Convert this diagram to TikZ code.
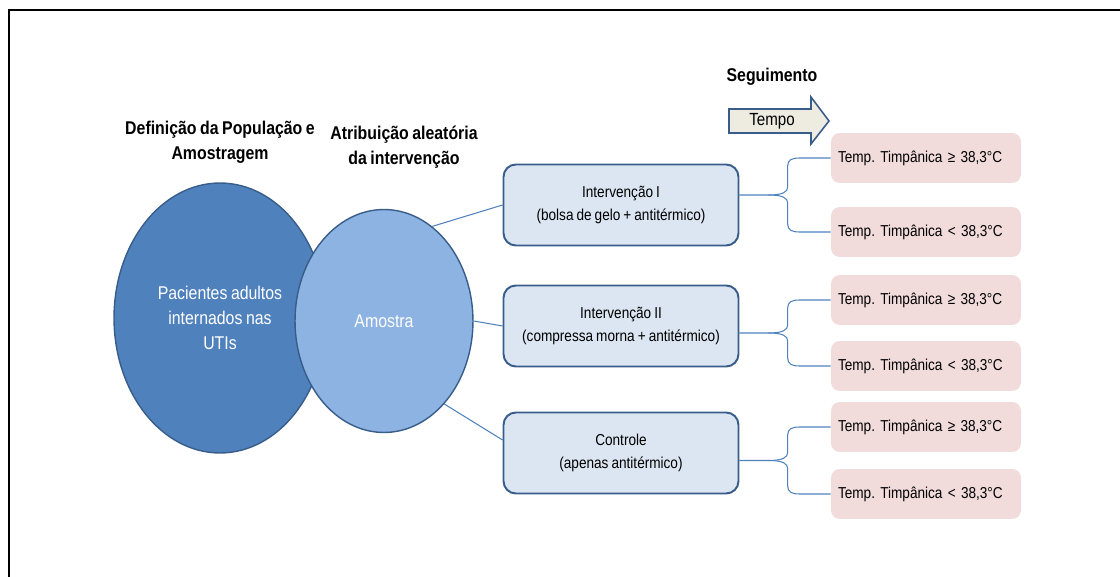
\documentclass[tikz,border=0pt]{standalone}
\usepackage{fontspec}
\setmainfont{Liberation Sans}[FakeStretch=0.86, WordSpace=0.8]
\usetikzlibrary{shapes.geometric,calc}
\frenchspacing

\definecolor{azulEsc}{HTML}{4F81BD}
\definecolor{azulCla}{HTML}{8DB3E2}
\definecolor{azulBorda}{HTML}{385D8A}
\definecolor{azulCaixa}{HTML}{DCE6F2}
\definecolor{rosa}{HTML}{F2DCDB}
\definecolor{bege}{HTML}{EEECE1}

\tikzstyle{every node}=[font=\fontsize{9pt}{13pt}\selectfont]
\tikzstyle{titulo}=[font=\fontsize{10.5pt}{14pt}\selectfont\bfseries, align=center]
\tikzstyle{circulo}=[ellipse, draw=azulBorda, line width=0.8pt, text=white, align=center, font=\fontsize{10.5pt}{14.2pt}\selectfont]
\tikzstyle{caixa}=[draw=azulBorda, line width=1.1pt, fill=azulCaixa, rounded corners=7pt, minimum width=4.7cm, minimum height=1.62cm, align=center]
\tikzstyle{temp}=[fill=rosa, rounded corners=5pt, minimum height=1cm, text width=3.52cm, inner xsep=0.14cm, align=left]
\tikzstyle{ligacao}=[draw=azulEsc, line width=0.6pt]

% chave: caixa de origem, resultado de cima, resultado de baixo
\newcommand{\chave}[3]{%
  \coordinate (m#1) at ($(#2.west)!0.5!(#3.west)$);
  \coordinate (s#1) at (#1.east |- m#1);
  \draw[ligacao] (s#1) -- ($(m#1)+(-62,0)$) .. controls +(14,0) and +(0,5) .. ($(m#1)+(-43,-8)$)
    -- ($(#2.west)+(-43,8)$) .. controls +(0,-6) and +(-8,0) .. ($(#2.west)+(-31,0)$) -- (#2.west);
  \draw[ligacao] ($(m#1)+(-62,0)$) .. controls +(14,0) and +(0,-5) .. ($(m#1)+(-43,8)$)
    -- ($(#3.west)+(-43,-8)$) .. controls +(0,6) and +(-8,0) .. ($(#3.west)+(-31,0)$) -- (#3.west);
}

\begin{document}
\begin{tikzpicture}[x=0.02cm, y=-0.02cm]
	\useasboundingbox (0,0) rectangle (1120,577);

	% Moldura
	\draw[line width=0.9pt] (1120,10) -- (9,10) -- (9,577);

	% Titulos
	\node[titulo] (tpop) at (220,142) {Definição da População e\\Amostragem};
	\node[titulo] (tatrib) at (404,147) {Atribuição aleatória\\da intervenção};
	\node[titulo] (tseg) at (772,77) {Seguimento};

	% Seta do tempo
	\draw[draw=azulBorda, fill=bege, line width=0.9pt] (729,109) -- (811,109) -- (811,97) -- (829,121)
		-- (811,144) -- (811,133) -- (729,133) -- cycle;
	\node[font=\fontsize{10pt}{12pt}\selectfont] (tempo) at (772,121) {Tempo};

	% Populacao e amostra
	\node[circulo, fill=azulEsc, minimum width=4.24cm, minimum height=5.4cm] (pop) at (220,318) {Pacientes adultos\\internados nas\\UTIs};
	\node[circulo, fill=azulCla, minimum width=3.56cm, minimum height=4.46cm] (amostra) at (384,321) {Amostra};

	% Grupos de intervencao
	\node[caixa] (int1) at (621,205) {Intervenção I\\(bolsa de gelo + antitérmico)};
	\node[caixa] (int2) at (621,326) {Intervenção II\\(compressa morna + antitérmico)};
	\node[caixa] (ctrl) at (621,453) {Controle\\(apenas antitérmico)};

	\draw[ligacao] (amostra.63) -- (int1.west);
	\draw[ligacao] (amostra.east) -- (int2.west);
	\draw[ligacao] (amostra.-54) -- ([yshift=0.26cm]ctrl.west);

	% Resultados
	\node[temp] (t1a) at (926,158) {Temp. Timpânica ≥ 38,3°C};
	\node[temp] (t1b) at (926,232) {Temp. Timpânica < 38,3°C};
	\node[temp] (t2a) at (926,300) {Temp. Timpânica ≥ 38,3°C};
	\node[temp] (t2b) at (926,366) {Temp. Timpânica < 38,3°C};
	\node[temp] (t3a) at (926,427) {Temp. Timpânica ≥ 38,3°C};
	\node[temp] (t3b) at (926,494) {Temp. Timpânica < 38,3°C};

	\chave{int1}{t1a}{t1b}
	\chave{int2}{t2a}{t2b}
	\chave{ctrl}{t3a}{t3b}
\end{tikzpicture}
\end{document}
